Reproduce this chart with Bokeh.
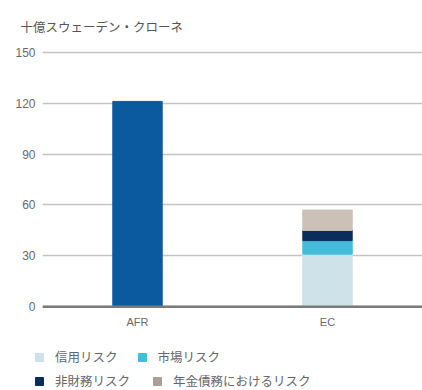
from bokeh.plotting import figure
from bokeh.models import ColumnDataSource, Span, Legend, LegendItem, FixedTicker, Range1d, Plot
from bokeh.layouts import column
from bokeh.embed import file_html
from bokeh.resources import INLINE

categories = ["AFR", "EC"]
afr_values = [121, 0]
credit_risk = [0, 31]
market_risk = [0, 8]
nonfin_risk = [0, 6]
pension_risk = [0, 12]
series_names = ["信用リスク", "市場リスク", "非財務リスク", "年金債務におけるリスク"]
series_colors = ["#cde2e9", "#45bcd9", "#0b2d5c", "#cbc1b9"]
legend_colors = ["#cde2e9", "#45bcd9", "#0b2d5c", "#aaa096"]
y_ticks = [0, 30, 60, 90, 120, 150]
unit_title = "十億スウェーデン・クローネ"

JP = "Noto Sans CJK JP"
LAT = "Liberation Sans"

src = ColumnDataSource(dict(
    cat=categories, afr=afr_values,
    s0=credit_risk, s1=market_risk, s2=nonfin_risk, s3=pension_risk,
))

p = figure(width=422, height=330, x_range=categories, y_range=(-1, 151),
           output_backend="svg", toolbar_location=None,
           min_border_left=42, min_border_right=0, min_border_top=14, min_border_bottom=21)

p.vbar(x="cat", top="afr", width=0.26, source=src, color="#0b5aa0")
stack = ["s0", "s1", "s2", "s3"]
rs = p.vbar_stack(stack, x="cat", width=0.26, source=src, color=series_colors)

p.add_layout(Span(location=0, dimension="width", line_color="#7a7a7a", line_width=2.5))

p.title.text = unit_title
p.title.text_font = JP
p.title.text_font_size = "12.5px"
p.title.text_font_style = "normal"
p.title.text_color = "#555555"
p.title.offset = -22
p.title.standoff = 29

p.outline_line_color = None
p.xgrid.grid_line_color = None
p.ygrid.grid_line_color = "#c4c4c4"
p.ygrid.grid_line_width = 1.5
p.yaxis.ticker = FixedTicker(ticks=y_ticks)
for ax in (p.xaxis[0], p.yaxis[0]):
    ax.axis_line_color = None
    ax.major_tick_line_color = None
    ax.minor_tick_line_color = None
    ax.major_tick_out = 0
    ax.major_tick_in = 0
    ax.minor_tick_out = 0
    ax.minor_tick_in = 0
    ax.major_label_text_font = LAT
    ax.major_label_text_color = "#6a6a6a"
p.yaxis.major_label_text_font_size = "12px"
p.xaxis.major_label_text_font_size = "11px"
p.yaxis.major_label_standoff = 7
p.xaxis.major_label_standoff = 7

# legend panel (no axes)
q = figure(width=422, height=60, x_range=Range1d(0, 1), y_range=Range1d(0, 1),
           x_axis_location=None, y_axis_location=None,
           output_backend="svg", toolbar_location=None, min_border=0,
           min_border_left=0, min_border_right=0, min_border_top=0, min_border_bottom=0)
q.grid.visible = False
q.outline_line_color = None
if "frame_align" in Plot.properties():
    p.frame_align = False
    q.frame_align = False
lr = [q.vbar(x=[5], top=[5], width=0.1, color=c) for c in legend_colors]

def mk_legend(idx, spacing, loc):
    return Legend(items=[LegendItem(label=series_names[i], renderers=[lr[i]]) for i in idx],
                  orientation="horizontal", location=loc,
                  glyph_width=10, glyph_height=10, label_standoff=11, spacing=spacing,
                  label_text_font=JP, label_text_font_size="12.5px", label_text_color="#666666",
                  border_line_color=None, background_fill_alpha=0,
                  padding=0, margin=0, label_height=12)

q.add_layout(mk_legend([0, 1], 19, (34, 24)))
q.add_layout(mk_legend([2, 3], 22, (34, 0)))

open("out.html", "w").write(file_html(column(p, q, spacing=0), INLINE))
